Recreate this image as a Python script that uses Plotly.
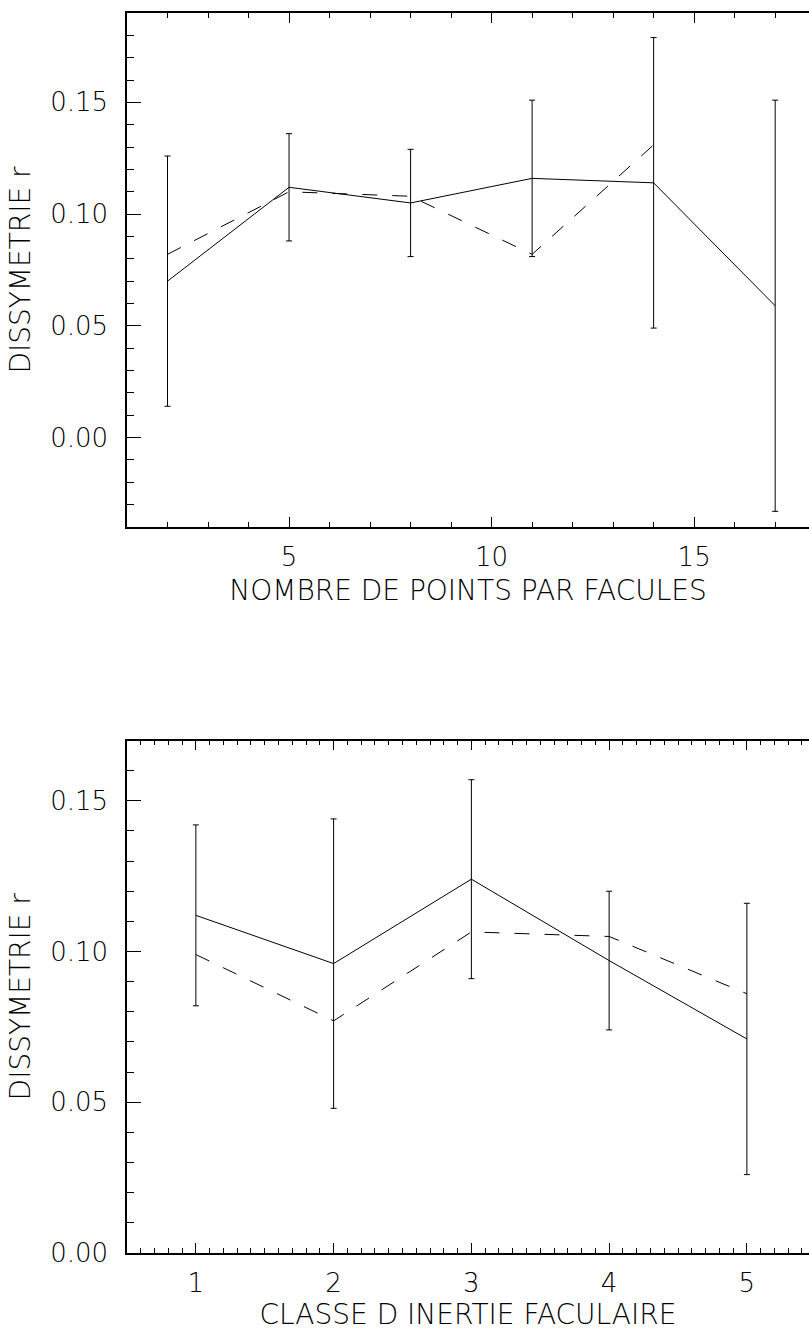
import plotly.graph_objects as go

# Top panel: dissymmetry r versus number of points per facula
pts_x = [2, 5, 8, 11, 14, 17]
pts_r = [0.070, 0.112, 0.105, 0.116, 0.114, 0.059]
pts_err = [0.056, 0.024, 0.024, 0.035, 0.065, 0.092]
pts_x_alt = [2, 5, 8, 11, 14]
pts_r_alt = [0.082, 0.110, 0.108, 0.082, 0.131]

# Bottom panel: dissymmetry r versus facular inertia class
cls_x = [1, 2, 3, 4, 5]
cls_r = [0.112, 0.096, 0.124, 0.097, 0.071]
cls_err = [0.030, 0.048, 0.033, 0.023, 0.045]
cls_r_alt = [0.099, 0.077, 0.1065, 0.105, 0.086]

y_title = "DISSYMETRIE r"
x_title_top = "NOMBRE DE POINTS PAR FACULES"
x_title_bot = "CLASSE D INERTIE FACULAIRE"

TICK_FONT = dict(family="'DejaVu Sans', sans-serif", size=26, color="black", weight=200)
TITLE_FONT = dict(family="'DejaVu Sans', sans-serif", size=28, color="black", weight=200)
LINE = dict(color="black", width=1)

fig = go.Figure()

# solid series with error bars
fig.add_trace(go.Scatter(
    x=pts_x, y=pts_r, mode="lines", line=LINE,
    error_y=dict(type="data", array=pts_err, visible=True, color="black",
                 thickness=1, width=3),
    xaxis="x", yaxis="y", showlegend=False, hoverinfo="skip"))
fig.add_trace(go.Scatter(
    x=pts_x_alt, y=pts_r_alt, mode="lines",
    line=dict(color="black", width=1, dash="15px,15px"),
    xaxis="x", yaxis="y", showlegend=False, hoverinfo="skip"))

fig.add_trace(go.Scatter(
    x=cls_x, y=cls_r, mode="lines", line=LINE,
    error_y=dict(type="data", array=cls_err, visible=True, color="black",
                 thickness=1, width=3),
    xaxis="x2", yaxis="y2", showlegend=False, hoverinfo="skip"))
fig.add_trace(go.Scatter(
    x=cls_x, y=cls_r_alt, mode="lines",
    line=dict(color="black", width=1, dash="15px,15px"),
    xaxis="x2", yaxis="y2", showlegend=False, hoverinfo="skip"))


def x_axis(rng, dtick, tick0, minor_dtick, anchor, title, standoff):
    return dict(
        range=rng, domain=[0, 1], anchor=anchor, tickmode="linear",
        tick0=tick0, dtick=dtick, ticks="inside", ticklen=10, tickwidth=1,
        tickcolor="black", showline=True, linecolor="black", linewidth=1.5,
        mirror="ticks", showgrid=False, zeroline=False,
        minor=dict(dtick=minor_dtick, tick0=tick0, ticks="inside", ticklen=5,
                   tickwidth=1, tickcolor="black", showgrid=False),
        tickfont=TICK_FONT, ticklabelstandoff=6,
        title=dict(text=title, font=TITLE_FONT, standoff=standoff),
    )


def y_axis(rng, domain, anchor):
    return dict(
        range=rng, domain=domain, anchor=anchor, tickmode="linear",
        tick0=0, dtick=0.05, tickformat=".2f", ticks="inside", ticklen=14,
        tickwidth=1, tickcolor="black", showline=True, linecolor="black",
        linewidth=1.5, mirror=False, showgrid=False, zeroline=False,
        minor=dict(dtick=0.01, tick0=0, ticks="inside", ticklen=7,
                   tickwidth=1, tickcolor="black", showgrid=False),
        tickfont=TICK_FONT, ticklabelstandoff=12,
        title=dict(text=y_title, font=TITLE_FONT, standoff=11),
    )


def y_right(rng, domain, anchor, overlay):
    # major ticks along the right edge of the frame
    return dict(
        range=rng, domain=domain, anchor=anchor, overlaying=overlay,
        side="right", tickmode="linear", tick0=0, dtick=0.05,
        ticks="inside", ticklen=7, tickwidth=1, tickcolor="black",
        showline=False, showgrid=False, zeroline=False, showticklabels=False,
    )


top_dom = [0.5855, 1.0]
bot_dom = [0.0, 0.4133]
top_yr = [-0.04, 0.19]
bot_yr = [0.0, 0.17]

fig.update_layout(
    width=809, height=1331,
    margin=dict(l=127, r=0, t=13, b=78),
    paper_bgcolor="white", plot_bgcolor="white",
    font=TICK_FONT,
    xaxis=x_axis([1, 17.835], 5, 0, 1, "y", x_title_top, 9),
    yaxis=y_axis(top_yr, top_dom, "x"),
    xaxis2=x_axis([0.5, 5.451], 1, 0, 0.1, "y2", x_title_bot, 12),
    yaxis2=y_axis(bot_yr, bot_dom, "x2"),
    yaxis3=y_right(top_yr, top_dom, "x", "y"),
    yaxis4=y_right(bot_yr, bot_dom, "x2", "y2"),
)

fig.write_html("out.html", config=dict(displayModeBar=False))
